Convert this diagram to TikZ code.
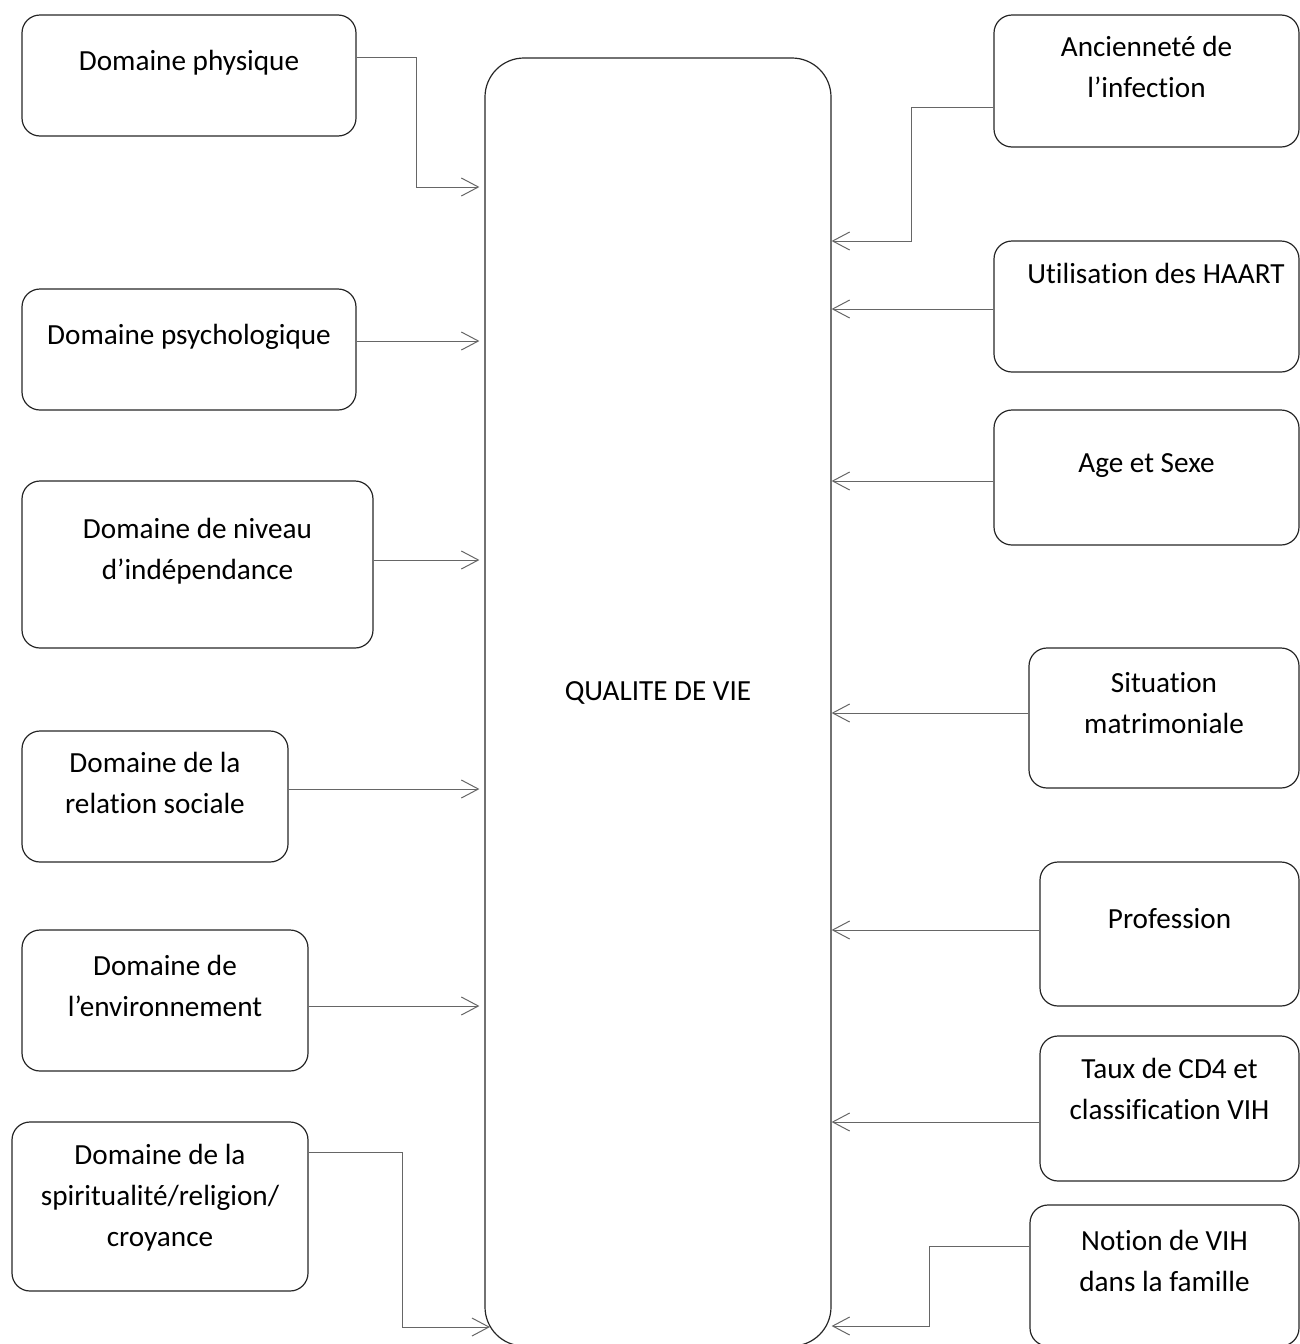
\documentclass[tikz,border=0pt]{standalone}
\usepackage{fontspec}
\setmainfont{Carlito}[Ligatures={NoCommon}]
\usepackage{tikz}
\usetikzlibrary{arrows.meta,positioning}

\begin{document}
\begin{tikzpicture}[
  x=0.5pt, y=-0.5pt,
  every node/.style={font=\fontsize{14.6}{20.5}\selectfont},
  box/.style={draw=black!85, line width=0.6pt, rounded corners=9pt,
              align=center, text height=10pt},
  two/.style={text height=30.5pt},
  three/.style={text height=51pt},
  conn/.style={draw=black!60, line width=0.5pt,
               -{Straight Barb[length=8.5pt,width=9pt]}},
  inl/.style={conn, shorten >=2.5pt}
]
  \useasboundingbox (0,0) rectangle (1300,1344);

  % centre
  \node[box, rounded corners=19.5pt, minimum width=173pt, minimum height=644pt,
        text depth=12pt] (qv) at (658,702) {QUALITE DE VIE};

  % left column
  \node[box, minimum width=167pt, minimum height=60.5pt, text depth=15.2pt]
    (phys) at (189,75.5) {Domaine physique};
  \node[box, minimum width=167pt, minimum height=60.5pt, text depth=15.2pt]
    (psy) at (189,349.5) {Domaine psychologique};
  \node[box, two, minimum width=175.5pt, minimum height=83.5pt, text depth=15.2pt]
    (niv) at (197.5,564.5) {Domaine de niveau\\d’indépendance};
  \node[box, two, minimum width=133pt, minimum height=65.5pt, text depth=13.2pt]
    (rel) at (155,796.5) {Domaine de la\\relation sociale};
  \node[box, two, minimum width=143pt, minimum height=70.5pt, text depth=14.2pt]
    (env) at (165,1000.5) {Domaine de\\l’environnement};
  \node[box, three, minimum width=148pt, minimum height=84.5pt, text depth=11.2pt]
    (spi) at (160,1206.5) {Domaine de la\\spiritualité/religion/\\croyance};

  % right column
  \node[box, two, minimum width=152.5pt, minimum height=66pt, text depth=13.7pt]
    (anc) at (1146.5,81) {Ancienneté de\\l’infection};
  \node[box, minimum width=152.5pt, minimum height=65.5pt, text depth=33.2pt]
    (haart) at (1146.5,306.5) {\hspace{9.5pt}Utilisation des HAART};
  \node[box, minimum width=152.5pt, minimum height=67.5pt, text depth=15.2pt]
    (age) at (1146.5,477.5) {Age et Sexe};
  \node[box, two, minimum width=135pt, minimum height=70pt, text depth=14.7pt]
    (sit) at (1164,718) {Situation\\matrimoniale};
  \node[box, minimum width=129.5pt, minimum height=72pt, text depth=15.7pt]
    (prof) at (1169.5,934) {Profession};
  \node[box, two, minimum width=129.5pt, minimum height=72.5pt, text depth=19.7pt]
    (taux) at (1169.5,1108.5) {Taux de CD4 et\\classification VIH};
  \node[box, two, minimum width=134.5pt, minimum height=70.5pt, text depth=14.7pt]
    (vih) at (1164.5,1275.5) {Notion de VIH\\dans la famille};

  \coordinate (qvsw) at (490,1327);

  % arrows into the centre
  \draw[inl] (phys.east |- 0,57) -| (416,187) -- (qv.west |- 0,187);
  \draw[inl] (psy.east |- 0,341) -- (qv.west |- 0,341);
  \draw[inl] (niv.east |- 0,560) -- (qv.west |- 0,560);
  \draw[inl] (rel.east |- 0,789) -- (qv.west |- 0,789);
  \draw[inl] (env.east |- 0,1006) -- (qv.west |- 0,1006);
  \draw[conn] (spi.east |- 0,1152) -| (402,1327) -- (qvsw);

  \draw[conn] (anc.west |- 0,107) -| (911,241) -- (qv.east |- 0,241);
  \draw[conn] (haart.west |- 0,309) -- (qv.east |- 0,309);
  \draw[conn] (age.west |- 0,481) -- (qv.east |- 0,481);
  \draw[conn] (sit.west |- 0,713) -- (qv.east |- 0,713);
  \draw[conn] (prof.west |- 0,930) -- (qv.east |- 0,930);
  \draw[conn] (taux.west |- 0,1122) -- (qv.east |- 0,1122);
  \draw[conn] (vih.west |- 0,1246) -| (929,1326) -- (qv.east |- 0,1326);
\end{tikzpicture}
\end{document}
